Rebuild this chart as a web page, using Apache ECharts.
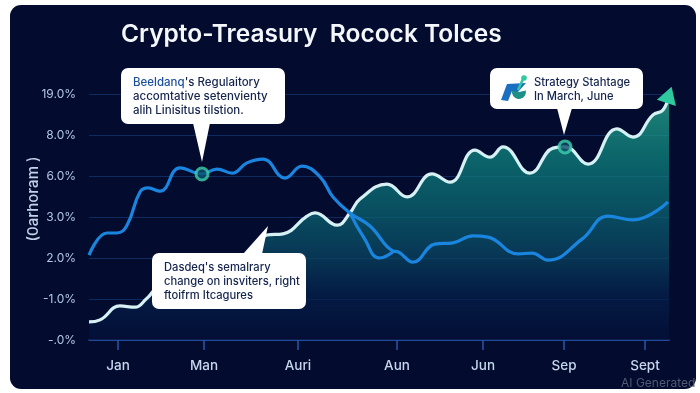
<!DOCTYPE html>
<html><head><meta charset="utf-8">
<style>html,body{margin:0;padding:0;background:#fff}#c{width:700px;height:393px}</style>
<script src="https://cdn.jsdelivr.net/npm/echarts@6/dist/echarts.min.js"></script>
</head><body><div id="c"></div>
<script>
const titleText = 'Crypto-Treasury  Rocock Tolces';
const yAxisTitle = '(0arhoram )';
const yTickLabels = ['-.0%','-1.0%','2.0%','3.0%','6.0%','8.0%','19.0%'];
const xTickPositions = [29,115,209,308,394,475,556];
const xTickLabels = ['Jan','Man','Auri','Aun','Jun','Sep','Sept'];
const treasuryX = [0,11,31,46,58,72,100,140,165,178,194,218,226,248,261,271,298,318,343,361,386,401,414,441,464,476,499,528,544,564,574,580];
const treasuryY = [.44,.49,.83,.80,1.02,1.3,1.25,1.7,2.24,2.56,2.59,3.02,3.1,2.8,3.1,3.44,3.8,3.49,4.05,3.85,4.63,4.46,4.71,4.07,4.68,4.71,4.29,5.15,4.95,5.49,5.61,5.98];
const rateX = [0,18,28,38,51,59,71,91,113,128,143,158,174,196,213,231,244,261,281,304,309,324,346,364,384,399,429,443,459,493,519,544,579];
const rateY = [2.07,2.61,2.61,2.80,3.61,3.71,3.63,4.20,4.05,4.17,4.07,4.32,4.41,3.95,4.24,3.98,3.49,3.10,2.78,2.17,2.15,1.90,2.34,2.37,2.54,2.51,2.10,2.12,1.95,2.46,3.02,2.93,3.37];
const branchX = [261,275,291,304];
const branchY = [3.10,2.49,2.0,2.15];
const markerX = [113,476];
const markerY = [4.05,4.71];
const note1 = ["accomtative setenvienty","alih Linisitus tilstion."];
const note2 = ['Strategy Stahtage','In March, June'];
const note3 = ["Dasdeq's semalrary",'change on insviters, right','ftoifrm Itcagures'];

const zip = (a,b)=>a.map((v,i)=>[v,b[i]]);
const navy='#14244d', font='Inter, sans-serif';
const txt=(x,y,text,size)=>({type:'text',z:110,style:{x,y,text,fill:navy,font:`500 ${size||11.5}px ${font}`,textVerticalAlign:'middle'}});
const box=(x,y,w,h,pts)=>[
 {type:'polygon',z:101,shape:{points:pts},style:{fill:'#fff'}},
 {type:'rect',z:100,shape:{x,y,width:w,height:h,r:7},style:{fill:'#fff'}}];
const treasuryData = zip(treasuryX,treasuryY).map((p,i)=> i===treasuryX.length-1
  ? {value:p,symbol:'triangle',symbolSize:[20,17],symbolRotate:-18,itemStyle:{color:'#2fc9a0'}} : {value:p});

const option={
 backgroundColor:'#fff',animation:false,
 title:{text:titleText,left:116,top:17,textStyle:{color:'#f4f7fb',fontSize:24.5,fontWeight:600,fontFamily:font}},
 grid:{left:89,right:31,top:94,bottom:53},
 xAxis:{type:'value',min:0,max:580,splitLine:{show:false},
  axisLine:{show:true,lineStyle:{color:'#2a56a8',width:1.5}},
  axisTick:{show:true,customValues:xTickPositions,length:10,lineStyle:{color:'#2a56a8',width:1.5}},
  axisLabel:{customValues:xTickPositions,margin:19,color:'#c6d7ee',fontSize:13.5,fontWeight:500,fontFamily:font,
    formatter:v=>xTickLabels[xTickPositions.indexOf(v)]}},
 yAxis:{type:'value',min:0,max:6,interval:1,axisLine:{show:false},axisTick:{show:false},
  splitLine:{lineStyle:{color:'#0f2a5e',width:1}},
  axisLabel:{margin:13,color:'#b4c8e4',fontSize:12,fontFamily:font,formatter:v=>yTickLabels[v]}},
 series:[
  {type:'line',data:treasuryData,smooth:.45,symbol:'none',showSymbol:true,clip:false,z:3,
   lineStyle:{color:'#d6f1f4',width:3.2},
   areaStyle:{color:{type:'linear',x:0,y:0,x2:0,y2:1,colorStops:[
     {offset:0,color:'#2dbb98'},{offset:.25,color:'#0f8c84'},{offset:.45,color:'#0b6f78'},{offset:.65,color:'#0a4a66'},{offset:.82,color:'#04214c'},{offset:1,color:'#03103a'}]}}},
  {type:'line',data:zip(branchX,branchY),smooth:.5,symbol:'none',z:4,lineStyle:{color:'#1a85df',width:3.2}},
  {type:'line',data:zip(rateX,rateY),smooth:.45,symbol:'none',z:4,lineStyle:{color:'#1a85df',width:3.2}},
  {type:'scatter',data:zip(markerX,markerY),symbol:'circle',symbolSize:12,z:6,
   itemStyle:{color:'#0d4f6a',borderColor:'#3ed0ab',borderWidth:3}}
 ],
 graphic:[
  {type:'rect',z:-10,silent:true,shape:{x:10,y:5,width:686,height:384,r:11},style:{fill:'#030b2e'}},
  {type:'text',z:110,rotation:Math.PI/2,x:33,y:199,style:{text:yAxisTitle,fill:'#c2d2ea',font:`500 15px ${font}`,textAlign:'center',textVerticalAlign:'middle'}},
  ...box(121,68,164,56,[[193,123],[210,123],[202,162]]),
  {type:'text',z:110,style:{x:133,y:83,rich:{a:{fill:'#1c4f9c',font:`500 11.5px ${font}`},b:{fill:navy,font:`500 11.5px ${font}`}},text:"{a|Beeldanq}{b|'s Regulaitory}",textVerticalAlign:'middle'}},
  txt(133,97,note1[0]),txt(133,111,note1[1]),
  ...box(490,68,153,41,[[557,108],[572,108],[564,135]]),
  txt(534,83,note2[0],11.2),txt(534,97,note2[1],11.2),
  {type:'polygon',z:110,shape:{points:[[501,100],[507,84],[526,83],[517,93],[512,91],[508,101]]},style:{fill:'#1a6fc0'}},
  {type:'sector',z:110,shape:{cx:519,cy:92,r:7,startAngle:-0.2,endAngle:Math.PI+0.2},style:{fill:'#1c8f86'}},
  {type:'line',z:110,shape:{x1:523,y1:79,x2:518,y2:90},style:{stroke:'#2fc9a0',lineWidth:2.5}},
  {type:'circle',z:110,shape:{cx:524,cy:78,r:2.8},style:{fill:'#2fc9a0'}},
  ...box(152,253,154,56,[[243,254],[262,254],[268,226]]),
  txt(164,268,note3[0],11.2),txt(164,282,note3[1],11.2),txt(164,296,note3[2],11.2),
  {type:'text',z:110,style:{x:621,y:383,text:'AI Generated',fill:'#4f5b72',font:`12px ${font}`,textVerticalAlign:'middle'}}
 ]
};
echarts.init(document.getElementById('c'),null,{renderer:'canvas'}).setOption(option);
</script></body></html>
